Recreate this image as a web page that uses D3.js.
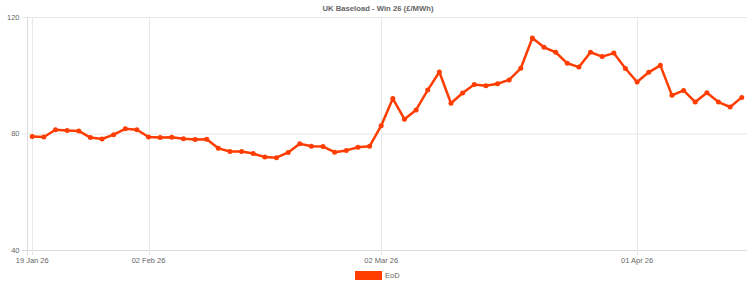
<!DOCTYPE html>
<html>
<head>
<meta charset="utf-8">
<script src="https://cdn.jsdelivr.net/npm/d3@7"></script>
<style>
  body { margin: 0; background: #fff; }
  text { font-family: "Liberation Sans", Arial, sans-serif; }
</style>
</head>
<body>
<script>
// trading days (weekdays) shown on the x axis
var dates = [
  "2026-01-19","2026-01-20","2026-01-21","2026-01-22","2026-01-23",
  "2026-01-26","2026-01-27","2026-01-28","2026-01-29","2026-01-30",
  "2026-02-02","2026-02-03","2026-02-04","2026-02-05","2026-02-06",
  "2026-02-09","2026-02-10","2026-02-11","2026-02-12","2026-02-13",
  "2026-02-16","2026-02-17","2026-02-18","2026-02-19","2026-02-20",
  "2026-02-23","2026-02-24","2026-02-25","2026-02-26","2026-02-27",
  "2026-03-02","2026-03-03","2026-03-04","2026-03-05","2026-03-06",
  "2026-03-09","2026-03-10","2026-03-11","2026-03-12","2026-03-13",
  "2026-03-16","2026-03-17","2026-03-18","2026-03-19","2026-03-20",
  "2026-03-23","2026-03-24","2026-03-25","2026-03-26","2026-03-27",
  "2026-03-30","2026-03-31","2026-04-01","2026-04-02","2026-04-03",
  "2026-04-06","2026-04-07","2026-04-08","2026-04-09","2026-04-10",
  "2026-04-13","2026-04-14"
];

// EoD price, £/MWh
var eod = [
  79.0, 78.8, 81.3, 81.0, 80.9, 78.6, 78.1, 79.6, 81.6, 81.3,
  78.8, 78.6, 78.7, 78.2, 77.9, 78.0, 74.9, 73.8, 73.8, 73.1,
  71.9, 71.7, 73.5, 76.5, 75.6, 75.5, 73.6, 74.2, 75.3, 75.6,
  82.7, 92.0, 84.9, 88.1, 94.9, 101.1, 90.4, 93.9, 96.8, 96.4,
  97.1, 98.4, 102.4, 112.8, 109.6, 107.9, 104.1, 102.8, 107.9, 106.4,
  107.6, 102.3, 97.7, 101.0, 103.4, 93.1, 94.8, 90.8, 94.0, 90.8,
  89.1, 92.4
];

var xTicks = ["2026-01-19","2026-02-02","2026-03-02","2026-04-01"];
var yTicks = [40, 80, 120];
var title = "UK Baseload - Win 26 (£/MWh)";
var seriesName = "EoD";

var width = 752, height = 285;
var plotLeft = 27, plotRight = 747, plotTop = 17, plotBottom = 250;
var lineColor = "#ff3d00";
var gridColor = "#e8e8e8";
var textColor = "#666";

var svg = d3.select("body").append("svg")
  .attr("width", width)
  .attr("height", height);

var x = d3.scalePoint()
  .domain(dates)
  .range([plotLeft, plotRight])
  .padding(0.45);

var y = d3.scaleLinear()
  .domain([40, 120])
  .range([plotBottom, plotTop]);

var fmt = d3.timeFormat("%d %b %y");
var parse = d3.timeParse("%Y-%m-%d");

// horizontal grid
svg.append("g")
  .selectAll("line")
  .data(yTicks)
  .enter().append("line")
  .attr("x1", plotLeft - 5)
  .attr("x2", plotRight)
  .attr("y1", function(d){ return y(d) + 0.5; })
  .attr("y2", function(d){ return y(d) + 0.5; })
  .style("stroke", function(d){ return d == 40 ? "#dcdcdc" : gridColor; })
  .style("stroke-width", 1);

// vertical grid
svg.append("g")
  .selectAll("line")
  .data(xTicks)
  .enter().append("line")
  .attr("x1", function(d){ return Math.round(x(d)) + 0.5; })
  .attr("x2", function(d){ return Math.round(x(d)) + 0.5; })
  .attr("y1", plotTop)
  .attr("y2", plotBottom + 5)
  .style("stroke", gridColor)
  .style("stroke-width", 1);

// y axis line
svg.append("line")
  .attr("x1", plotLeft + 0.5).attr("x2", plotLeft + 0.5)
  .attr("y1", plotTop).attr("y2", plotBottom + 5)
  .style("stroke", "#dcdcdc");

// y tick labels
svg.append("g")
  .selectAll("text")
  .data(yTicks)
  .enter().append("text")
  .attr("x", plotLeft - 7.5)
  .attr("y", function(d){ return y(d); })
  .attr("dy", "0.35em")
  .attr("text-anchor", "end")
  .style("font-size", "7.5px")
  .style("fill", textColor)
  .text(function(d){ return d; });

// x tick labels
svg.append("g")
  .selectAll("text")
  .data(xTicks)
  .enter().append("text")
  .attr("x", function(d){ return x(d); })
  .attr("y", plotBottom + 12.5)
  .attr("text-anchor", "middle")
  .style("font-size", "7.5px")
  .style("fill", textColor)
  .text(function(d){ return fmt(parse(d)); });

// title
svg.append("text")
  .attr("x", width / 2 + 2)
  .attr("y", 10.5)
  .attr("text-anchor", "middle")
  .style("font-size", "7.7px")
  .style("font-weight", "bold")
  .style("fill", textColor)
  .text(title);

var data = dates.map(function(d, i){ return {date: d, value: eod[i]}; });

var line = d3.line()
  .x(function(d){ return x(d.date); })
  .y(function(d){ return y(d.value); });

svg.append("path")
  .datum(data)
  .attr("d", line)
  .style("fill", "none")
  .style("stroke", lineColor)
  .style("stroke-width", 2.5)
  .style("stroke-linejoin", "round");

svg.append("g")
  .selectAll("circle")
  .data(data)
  .enter().append("circle")
  .attr("cx", function(d){ return x(d.date); })
  .attr("cy", function(d){ return y(d.value); })
  .attr("r", 2.5)
  .style("fill", lineColor);

// legend
var legend = svg.append("g").attr("transform", "translate(355,271)");
legend.append("rect")
  .attr("width", 27)
  .attr("height", 9)
  .style("fill", lineColor);
legend.append("text")
  .attr("x", 30)
  .attr("y", 4.5)
  .attr("dy", "0.35em")
  .style("font-size", "7.5px")
  .style("fill", textColor)
  .text(seriesName);
</script>
</body>
</html>
